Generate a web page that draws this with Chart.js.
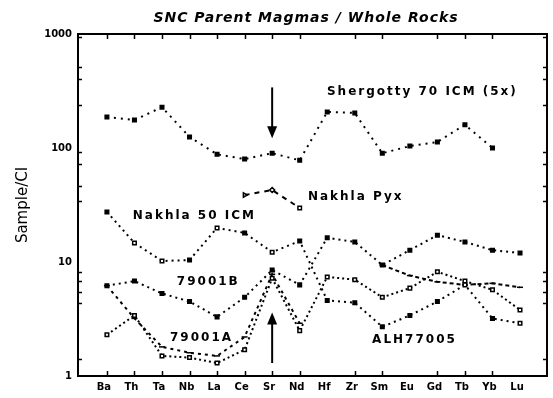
<!DOCTYPE html>
<html>
<head>
<meta charset="utf-8">
<script src="https://cdn.jsdelivr.net/npm/chart.js@4/dist/chart.umd.min.js"></script>
<style>
  html, body { margin: 0; padding: 0; background: #fff; }
  #wrap { width: 553px; height: 398px; }
</style>
</head>
<body>
<div id="wrap"><canvas id="spider"></canvas></div>
<script>
// element order along the x axis
const elements = ['Ba', 'Th', 'Ta', 'Nb', 'La', 'Ce', 'Sr', 'Nd', 'Hf', 'Zr', 'Sm', 'Eu', 'Gd', 'Tb', 'Yb', 'Lu'];

// sample / CI ratios, one value per element (null = not analysed)
const shergotty70 = [187, 176, 228, 125, 88, 80, 90, 78, 207, 203, 90, 104, 113, 160, 100, null];
const nakhlaPyx = [null, null, null, null, null, 38.7, 42.8, 29.8, null, null, null, null, null, null, null, null];
const nakhla50 = [27.5, 14.7, 10.2, 10.4, 19.9, 18, 12.2, 15.3, 4.6, 4.4, 2.7, 3.4, 4.5, 6.3, 3.2, 2.9];
const eeta79001B = [6.2, 6.8, 5.3, 4.5, 3.3, 4.9, 8.5, 6.3, 16.3, 15, 9.4, 12.7, 17.2, 15, 12.7, 12];
const eeta79001A = [2.3, 3.4, 1.5, 1.45, 1.3, 1.7, 7.2, 2.5, 7.4, 7.0, 4.9, 5.9, 8.2, 6.8, 5.7, 3.8];
const alh77005 = [6.2, 3.2, 1.8, 1.6, 1.5, 2.2, 7.8, 2.9, null, null, null, null, null, null, null, null];
const hreeTail = [null, null, null, null, null, null, null, null, null, null, 9.4, 7.6, 6.7, 6.3, 6.5, 6.0];

// axis ticks
const yTickValues = [1, 10, 100, 1000];
const yMinorTicks = [950, 510, 400, 240, 92, 72, 46, 34, 8.2, 6.8, 5.5, 4.4, 1.4];
const xTickIndex = [0, 1, 2, 3, 4, 5, 6, 7, 9, 10, 12, 13, 14];

// annotations (x in element index, y in sample/CI)
const curveLabels = [
  { text: 'Shergotty 70 ICM (5x)', x: 7.99, y: 310 },
  { text: 'Nakhla Pyx', x: 7.3, y: 37 },
  { text: 'Nakhla 50 ICM', x: 0.94, y: 25.3 },
  { text: '79001B', x: 2.54, y: 6.7 },
  { text: '79001A', x: 2.29, y: 2.15 },
  { text: 'ALH77005', x: 9.63, y: 2.07 }
];
const srArrows = [
  { x: 6, from: 340, to: 122 },
  { x: 6, from: 1.3, to: 3.6 }
];

function toPoints(values) {
  return values.map((v, i) => ({ x: i, y: v }));
}

function series(label, values, opts) {
  return Object.assign({
    label: label,
    data: toPoints(values),
    borderColor: '#000',
    backgroundColor: '#000',
    borderWidth: 2,
    borderDash: [2, 4],
    pointBorderColor: '#000',
    pointBorderWidth: 1.5,
    pointRadius: 2.5,
    spanGaps: false,
    tension: 0
  }, opts);
}

const decor = {
  id: 'decor',
  afterDraw(chart) {
    const ctx = chart.ctx;
    const a = chart.chartArea;
    const x = chart.scales.x;
    const y = chart.scales.y;
    ctx.save();
    ctx.strokeStyle = '#000';
    ctx.fillStyle = '#000';

    // frame
    ctx.lineWidth = 2;
    ctx.strokeRect(a.left, a.top, a.right - a.left, a.bottom - a.top);

    // inward tick marks
    ctx.lineWidth = 1.5;
    ctx.beginPath();
    xTickIndex.forEach(i => {
      const px = Math.round(x.getPixelForValue(i)) + 0.5;
      ctx.moveTo(px, a.bottom); ctx.lineTo(px, a.bottom - 5);
      ctx.moveTo(px, a.top); ctx.lineTo(px, a.top + 5);
    });
    yMinorTicks.forEach(v => {
      const py = Math.round(y.getPixelForValue(v)) + 0.5;
      ctx.moveTo(a.left, py); ctx.lineTo(a.left + 4, py);
      ctx.moveTo(a.right, py); ctx.lineTo(a.right - 4, py);
    });
    ctx.stroke();

    // arrows marking the Sr anomaly
    srArrows.forEach(ar => {
      const px = x.getPixelForValue(ar.x);
      const y0 = y.getPixelForValue(ar.from);
      const y1 = y.getPixelForValue(ar.to);
      const dir = y1 > y0 ? 1 : -1;
      ctx.lineWidth = 2;
      ctx.beginPath();
      ctx.moveTo(px, y0);
      ctx.lineTo(px, y1 - dir * 10);
      ctx.stroke();
      ctx.beginPath();
      ctx.moveTo(px, y1);
      ctx.lineTo(px - 5, y1 - dir * 12);
      ctx.lineTo(px + 5, y1 - dir * 12);
      ctx.closePath();
      ctx.fill();
    });

    // curve labels
    ctx.font = 'bold 12px "DejaVu Sans"';
    ctx.letterSpacing = '2px';
    ctx.textAlign = 'left';
    ctx.textBaseline = 'middle';
    curveLabels.forEach(l => {
      ctx.fillText(l.text, x.getPixelForValue(l.x), y.getPixelForValue(l.y));
    });

    // title
    ctx.font = 'italic bold 14px "DejaVu Sans"';
    ctx.letterSpacing = '1px';
    ctx.textAlign = 'center';
    ctx.fillText('SNC Parent Magmas / Whole Rocks', 306, 18);
    ctx.restore();
  }
};

new Chart(document.getElementById('spider'), {
  type: 'line',
  data: {
    datasets: [
      series('Shergotty 70 ICM (5x)', shergotty70, { pointStyle: 'rect', borderDash: [2, 5] }),
      series('Nakhla Pyx', nakhlaPyx, {
        pointStyle: ['triangle', 'triangle', 'triangle', 'triangle', 'triangle', 'triangle', 'rectRot', 'rect'],
        rotation: 90,
        pointBackgroundColor: '#fff',
        borderDash: [5, 5]
      }),
      series('Nakhla 50 ICM', nakhla50, {
        pointStyle: 'rect',
        pointBackgroundColor: ['#000', '#fff', '#fff', '#000', '#fff', '#000', '#fff', '#000',
          '#000', '#000', '#000', '#000', '#000', '#fff', '#000', '#fff'],
        borderDash: [2, 4]
      }),
      series('79001B', eeta79001B, { pointStyle: 'rect', borderDash: [2, 4] }),
      series('79001A', eeta79001A, { pointStyle: 'rect', pointBackgroundColor: '#fff', borderDash: [2, 3] }),
      series('ALH77005', alh77005, { pointStyle: 'line', pointRadius: 3, borderDash: [3, 4] }),
      series('HREE', hreeTail, { pointStyle: 'line', pointRadius: 3, borderDash: [4, 3] })
    ]
  },
  options: {
    responsive: true,
    maintainAspectRatio: false,
    animation: false,
    layout: { padding: { top: 34, right: 6, left: 0, bottom: 0 } },
    plugins: {
      legend: { display: false },
      tooltip: { enabled: false },
      title: { display: false }
    },
    scales: {
      x: {
        type: 'linear',
        min: -1.05,
        max: 15.98,
        grid: { display: false, drawTicks: false },
        border: { display: false },
        afterBuildTicks(scale) {
          scale.ticks = elements.map((e, i) => ({ value: i }));
        },
        afterFit(scale) { scale.height = 22; },
        ticks: {
          autoSkip: false,
          maxRotation: 0,
          padding: 5,
          labelOffset: -3,
          color: '#000',
          font: { family: 'DejaVu Sans', size: 10, weight: 'bold' },
          callback: (v) => elements[v]
        }
      },
      y: {
        type: 'logarithmic',
        min: 1,
        max: 1000,
        grid: { display: false, drawTicks: false },
        border: { display: false },
        afterBuildTicks(scale) {
          scale.ticks = yTickValues.map(v => ({ value: v }));
        },
        afterFit(scale) { scale.width = 78; },
        ticks: {
          padding: 6,
          color: '#000',
          font: { family: 'DejaVu Sans', size: 10, weight: 'bold' },
          callback: (v) => String(v)
        },
        title: {
          display: true,
          text: 'Sample/CI',
          color: '#000',
          padding: { top: 14, bottom: 0 },
          font: { family: 'DejaVu Sans', size: 15 }
        }
      }
    }
  },
  plugins: [decor]
});
</script>
</body>
</html>
